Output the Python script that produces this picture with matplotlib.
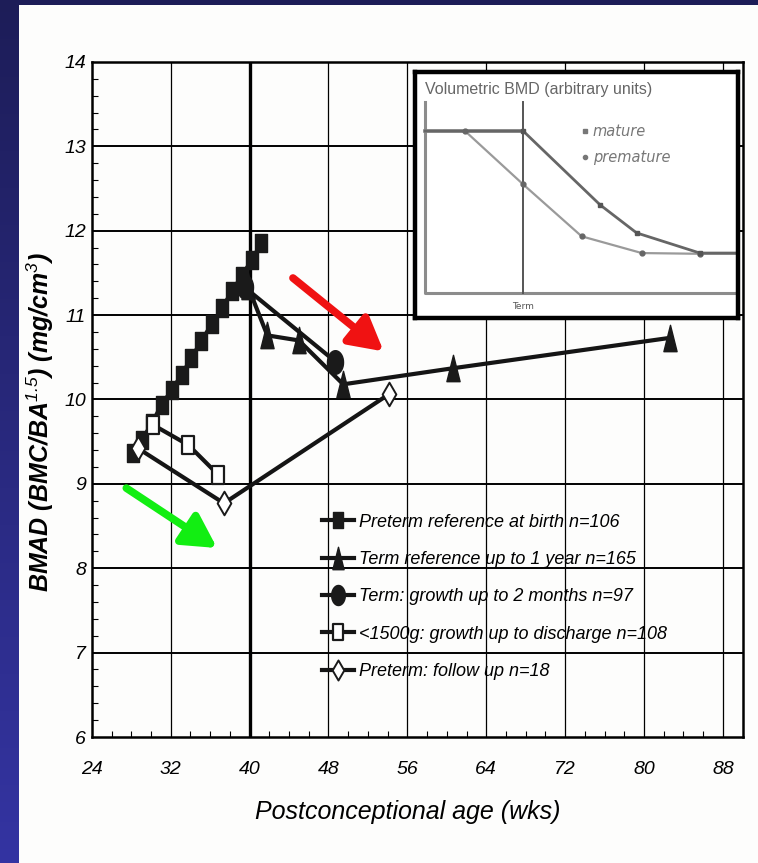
import numpy as np
import matplotlib.pyplot as plt
from matplotlib import font_manager
from matplotlib.path import Path

W, H = 758, 863

# --- data -------------------------------------------------------------
# Preterm reference at birth (filled squares)
pre_ref_age = [28.2, 29.1, 30.1, 31.1, 32.1, 33.1, 34.1, 35.1, 36.2, 37.2, 38.2, 39.2, 40.2, 41.2]
pre_ref_bmad = [9.36, 9.52, 9.72, 9.94, 10.11, 10.29, 10.49, 10.69, 10.90, 11.08, 11.28, 11.46, 11.65, 11.85]

# Term reference up to 1 year (filled triangles)
term_ref_age = [39.8, 41.8, 45.0, 49.5, 60.6, 82.6]
term_ref_bmad = [11.35, 10.76, 10.70, 10.18, 10.37, 10.73]

# Term: growth up to 2 months (filled circles)
term_gr_age = [39.5, 48.7]
term_gr_bmad = [11.33, 10.45]

# <1500g: growth up to discharge (open squares)
vlbw_age = [30.2, 33.8, 36.8]
vlbw_bmad = [9.70, 9.46, 9.11]

# Preterm: follow up (open diamonds)
follow_age = [28.7, 37.4, 54.1]
follow_bmad = [9.42, 8.77, 10.06]

labels = ["Preterm reference at birth n=106",
          "Term reference up to 1 year n=165",
          "Term: growth up to 2 months n=97",
          "<1500g: growth up to discharge n=108",
          "Preterm: follow up n=18"]

x_ticks = [24, 32, 40, 48, 56, 64, 72, 80, 88]
y_ticks = [6, 7, 8, 9, 10, 11, 12, 13, 14]

# inset: volumetric BMD sketch (arbitrary units)
inset_mature_x = [3.1, 33.5, 57.3, 68.6, 88.2, 100]
inset_mature_y = [76, 76, 46.0, 34.6, 26.4, 26.4]
inset_premature_x = [3.1, 15.5, 33.5, 51.6, 70.2, 88.2, 100]
inset_premature_y = [76, 76, 54.3, 33.2, 26.4, 26.1, 26.1]

# arrows (start, end) in data units
red_arrow = [(44.4, 11.44), (53.6, 10.57)]
green_arrow = [(27.5, 8.95), (36.7, 8.24)]

# --- fonts ------------------------------------------------------------
names = {f.name for f in font_manager.fontManager.ttflist}
narrow = 'Liberation Sans Narrow' if 'Liberation Sans Narrow' in names else 'Liberation Sans'
plt.rcParams['mathtext.fontset'] = 'custom'
plt.rcParams['mathtext.rm'] = 'Liberation Sans:italic'
plt.rcParams['mathtext.it'] = 'Liberation Sans:italic'
plt.rcParams['mathtext.bf'] = 'Liberation Sans:bold:italic'


def px(x, y):
    # pixel position (from top-left) -> figure fraction
    return x / W, 1 - y / H


def shape(verts):
    return Path(verts + [verts[0]], closed=True)


tall_square = shape([(-0.62, -1), (0.62, -1), (0.62, 1), (-0.62, 1)])
tall_tri = shape([(-0.5, -1), (0.5, -1), (0, 1)])
tall_diamond = shape([(0, 1), (0.58, 0), (0, -1), (-0.58, 0)])
t = np.linspace(0, 2 * np.pi, 40)
tall_circle = Path(np.column_stack([0.68 * np.cos(t), np.sin(t)]))

fig = plt.figure(figsize=(W / 100, H / 100), dpi=100)
fig.patch.set_facecolor('#fdfdfc')

# navy frame strips
strip = fig.add_axes([0, 0, 19 / W, 1])
grad = np.linspace(0, 1, 256).reshape(-1, 1)
strip.imshow(grad, aspect='auto', cmap=plt.matplotlib.colors.LinearSegmentedColormap.from_list(
    'nv', ['#1d1d58', '#3434a2']), extent=[0, 1, 0, 1], origin='upper')
strip.axis('off')
top = fig.add_axes([0, 1 - 5 / H, 1, 5 / H])
top.set_facecolor('#1d1d58')
top.set_xticks([])
top.set_yticks([])
for s in top.spines.values():
    s.set_visible(False)

l, b = px(91.8, 737)
r, tp = px(742.6, 62)
ax = fig.add_axes([l, b, r - l, tp - b])
ax.set_facecolor('#fdfdfc')
ax.set_xlim(24, 90)
ax.set_ylim(6, 14)

for v in x_ticks[1:]:
    ax.axvline(v, color='black', lw=2.4 if v == 40 else 0.9, zorder=1)
for v in y_ticks[1:-1]:
    ax.axhline(v, color='black', lw=1.4, zorder=1)

lw = 3.0
ax.plot(pre_ref_age, pre_ref_bmad, color='#151515', lw=lw, marker=tall_square, ms=13,
        mfc='#1a1a1a', mec='#1a1a1a', label=labels[0], zorder=3)
ax.plot(term_ref_age, term_ref_bmad, color='#151515', lw=lw, marker=tall_tri, ms=19,
        mfc='#1a1a1a', mec='#1a1a1a', label=labels[1], zorder=4)
ax.plot(term_gr_age, term_gr_bmad, color='#151515', lw=lw, marker=tall_circle, ms=17,
        mfc='#1a1a1a', mec='#1a1a1a', label=labels[2], zorder=5)
ax.plot(vlbw_age, vlbw_bmad, color='#151515', lw=lw, marker=tall_square, ms=13,
        mfc='white', mec='#1a1a1a', mew=1.6, label=labels[3], zorder=6)
ax.plot(follow_age, follow_bmad, color='#151515', lw=lw, marker=tall_diamond, ms=17,
        mfc='white', mec='#1a1a1a', mew=1.4, label=labels[4], zorder=7)

for (x0, y0), (x1, y1), c in [(*red_arrow, '#f01212'), (*green_arrow, '#12ee12')]:
    ax.annotate('', xy=(x1, y1), xytext=(x0, y0), zorder=8,
                arrowprops=dict(arrowstyle='-|>,head_length=1.0,head_width=0.55',
                                mutation_scale=20, lw=5.5, color=c, shrinkA=0, shrinkB=0))

ax.set_xticks(x_ticks)
ax.set_yticks(y_ticks)
ax.set_xticks(np.arange(24, 90, 2), minor=True)
ax.set_yticks(np.arange(6, 14, 0.2), minor=True)
ax.tick_params(which='major', length=0, labelsize=14, pad=4)
ax.tick_params(axis='x', which='major', pad=17)
ax.tick_params(which='minor', direction='in', length=4, width=0.8)
for lab in ax.get_xticklabels() + ax.get_yticklabels():
    lab.set_family(narrow)
    lab.set_style('italic')
for s in ax.spines.values():
    s.set_linewidth(1.8)

leg = ax.legend(loc='upper left', bbox_to_anchor=(0.354, 0.331), frameon=False,
                prop=dict(family=narrow, style='italic', size=13),
                handlelength=1.75, handletextpad=0.3, labelspacing=1.13,
                borderpad=0, borderaxespad=0, markerscale=0.85)

fig.text(*px(408, 812), 'Postconceptional age (wks)', family=narrow, style='italic',
         size=18, ha='center', va='center')
fig.text(*px(40, 422), r'BMAD (BMC/BA$^{1.5}$) (mg/cm$^{3}$)', family='Liberation Sans',
         weight='bold', style='italic', size=18, rotation=90, ha='center', va='center')

# inset
il, ib = px(415, 318)
ir, it = px(738, 72)
ins = fig.add_axes([il, ib, ir - il, it - ib], zorder=10)
ins.set_facecolor('white')
ins.set_xlim(0, 100)
ins.set_ylim(0, 100)
ins.set_xticks([])
ins.set_yticks([])
for s in ins.spines.values():
    s.set_linewidth(3.2)
grey = '#8c8c8c'
ins.plot([3.1, 3.1, 100], [88, 10.2, 10.2], color=grey, lw=2.2)
ins.plot([33.5, 33.5], [88, 10.2], color='#555555', lw=1.4)
ins.plot([3.1, 33.5], [76, 76], color=grey, lw=2.6)
ins.plot(inset_premature_x, inset_premature_y, color='#9a9a9a', lw=1.6,
         marker='o', ms=3.5, mfc='#666', mec='#666', markevery=[1, 2, 3, 4, 5])
ins.plot(inset_mature_x, inset_mature_y, color='#666666', lw=2.0,
         marker='s', ms=3.5, mfc='#555', mec='#555', markevery=[1, 2, 3, 4])
ins.text(3.1, 93, 'Volumetric BMD (arbitrary units)', color='#666', size=11.5,
         family='Liberation Sans', va='center')
ins.plot([52.5], [76], marker='s', ms=3, color='#777')
ins.text(54.8, 76, 'mature', color='#777', size=10.5, style='italic', va='center')
ins.plot([52.5], [65.3], marker='o', ms=3, color='#777')
ins.text(55.1, 65.3, 'premature', color='#777', size=10.5, style='italic', va='center')
ins.text(33.5, 4.8, 'Term', color='#555', size=6.5, ha='center', va='center')

fig.savefig('out.png', dpi=100, facecolor=fig.get_facecolor())
